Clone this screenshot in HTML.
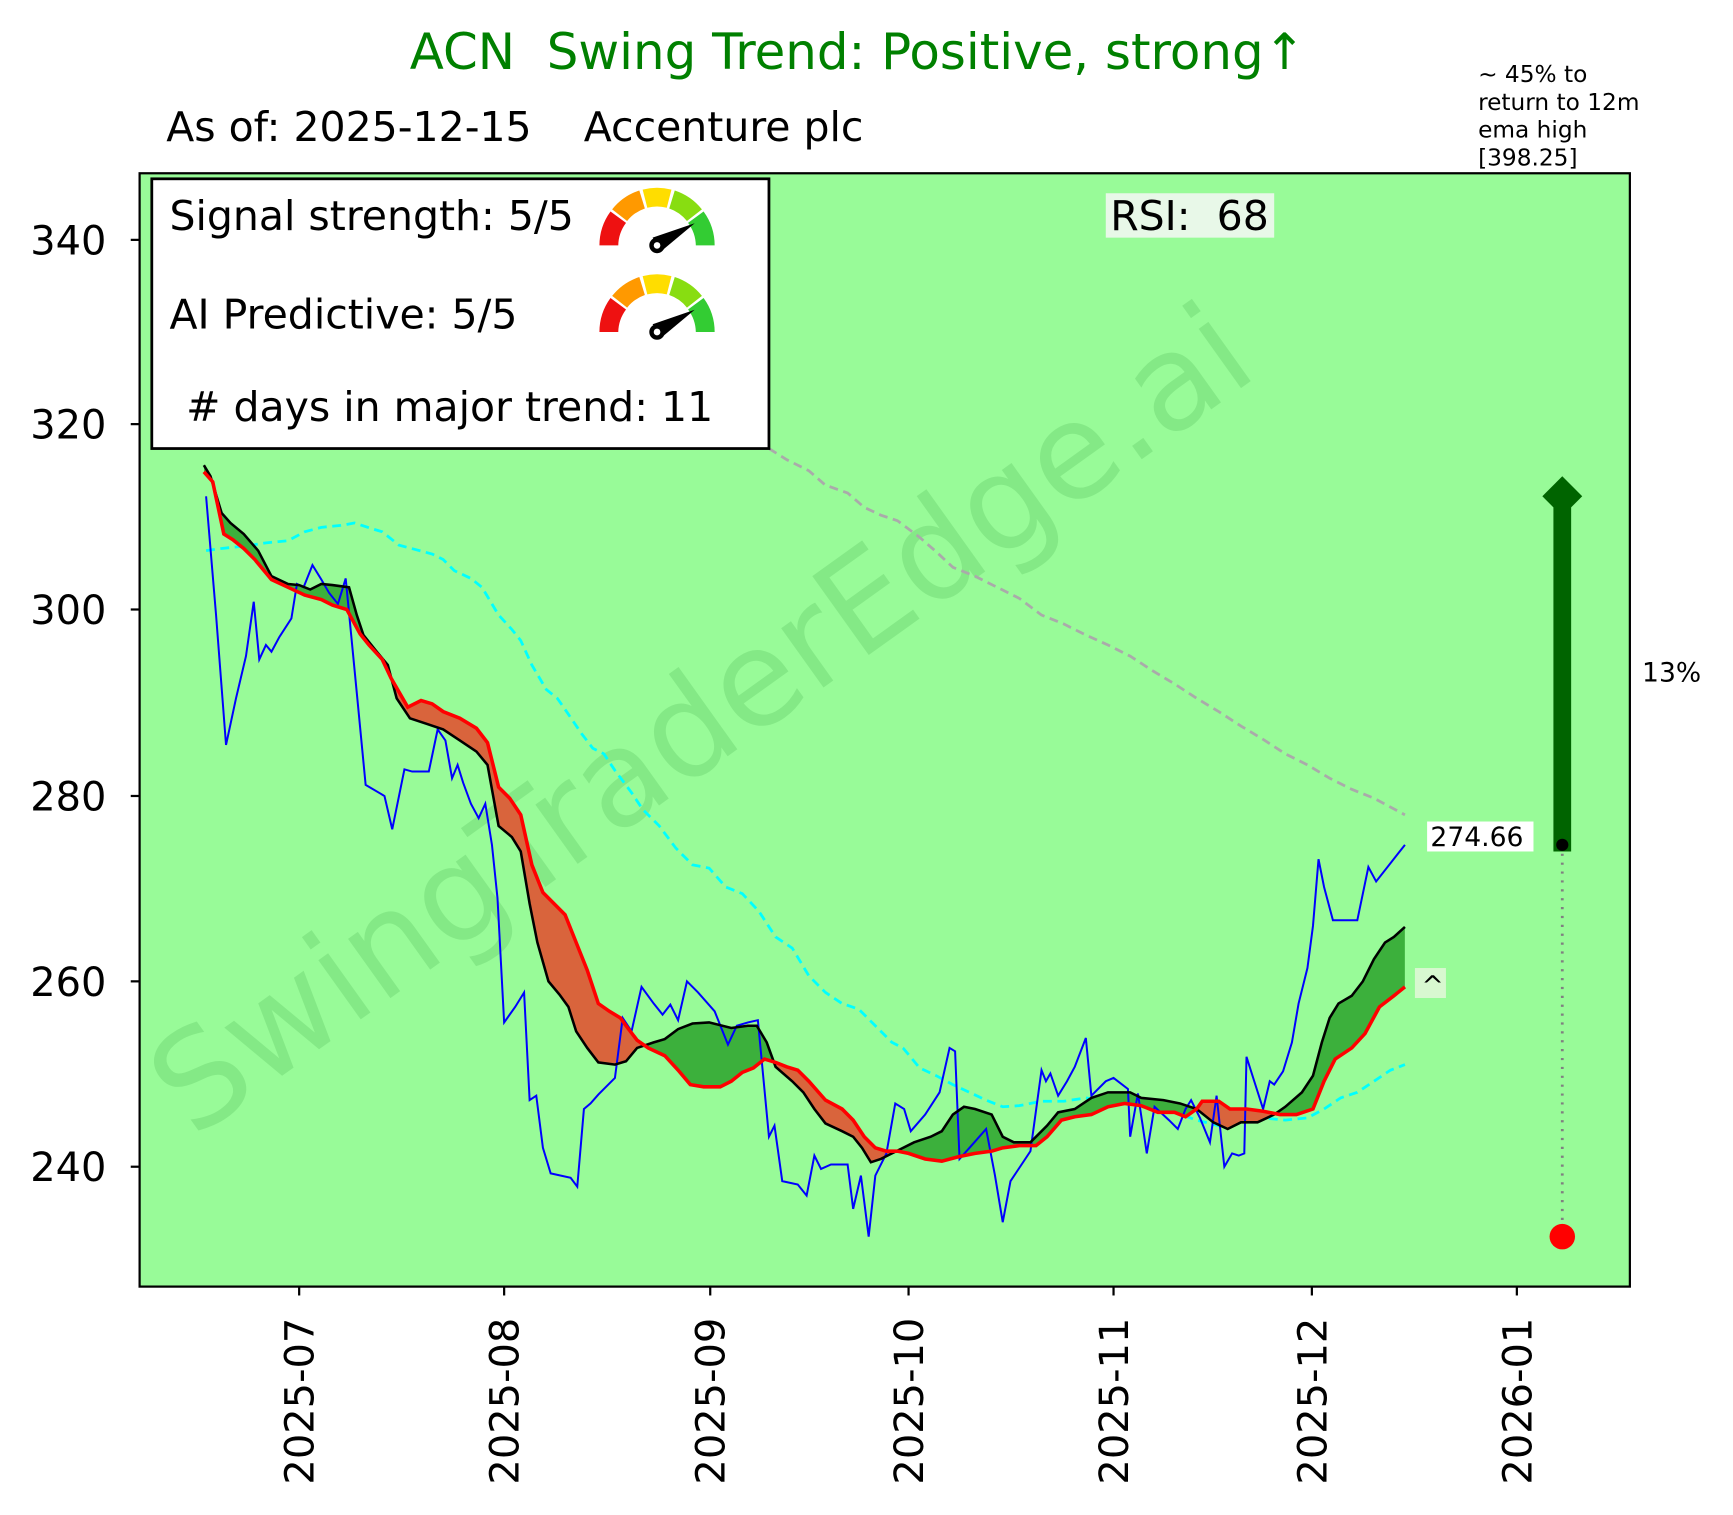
<!DOCTYPE html>
<html><head><meta charset="utf-8"><style>
html,body{margin:0;padding:0;background:#fff;}
svg{display:block;font-family:"DejaVu Sans","Liberation Sans",sans-serif;}
</style></head><body>
<svg width="1733" height="1515" viewBox="0 0 1733 1515" xmlns="http://www.w3.org/2000/svg">
<defs>
<clipPath id="ax"><rect x="126" y="157" width="1345" height="1003"/></clipPath>
<clipPath id="aboveRed"><polygon points="184,0 184,426 192,435 202,482 210,487 220,495 230,505 245,523 260,530 275,537 290,541 300,546 313,550 325,572 333,582 345,595 353,612 368,638 380,632 390,635 400,642 415,648 430,657 440,670 450,710 460,720 470,735 480,780 490,805 500,815 510,825 520,850 530,875 540,905 550,912 560,918 565,925 575,938 585,945 600,952 612,965 623,978 635,980 650,980 660,975 670,967 680,963 690,955 700,958 710,962 720,965 730,975 745,992 760,1000 770,1010 780,1025 790,1035 800,1038 810,1038 820,1040 835,1045 850,1047 865,1043 880,1040 895,1038 905,1035 920,1033 935,1033 945,1025 958,1010 970,1007 985,1005 1000,998 1015,995 1030,997 1045,1003 1060,1003 1070,1007 1080,1000 1085,993 1100,993 1110,1000 1125,1000 1140,1002 1155,1005 1170,1005 1185,1000 1195,975 1205,955 1220,945 1232,932 1245,908 1258,898 1268,890 1268,0"/></clipPath>
<clipPath id="belowRed"><polygon points="184,1400 184,426 192,435 202,482 210,487 220,495 230,505 245,523 260,530 275,537 290,541 300,546 313,550 325,572 333,582 345,595 353,612 368,638 380,632 390,635 400,642 415,648 430,657 440,670 450,710 460,720 470,735 480,780 490,805 500,815 510,825 520,850 530,875 540,905 550,912 560,918 565,925 575,938 585,945 600,952 612,965 623,978 635,980 650,980 660,975 670,967 680,963 690,955 700,958 710,962 720,965 730,975 745,992 760,1000 770,1010 780,1025 790,1035 800,1038 810,1038 820,1040 835,1045 850,1047 865,1043 880,1040 895,1038 905,1035 920,1033 935,1033 945,1025 958,1010 970,1007 985,1005 1000,998 1015,995 1030,997 1045,1003 1060,1003 1070,1007 1080,1000 1085,993 1100,993 1110,1000 1125,1000 1140,1002 1155,1005 1170,1005 1185,1000 1195,975 1205,955 1220,945 1232,932 1245,908 1258,898 1268,890 1268,1400"/></clipPath>
</defs>
<g transform="translate(0,-1) scale(1.108,1.11)">
<text x="774" y="63" text-anchor="middle" font-size="45" fill="#008000" xml:space="preserve">ACN  Swing Trend: Positive, strong↑</text>
<text x="150" y="128" font-size="37" fill="#000" xml:space="preserve">As of: 2025-12-15    Accenture plc</text>
<g font-size="21" fill="#000">
<text x="1334" y="75">~ 45% to</text><text x="1334" y="100">return to 12m</text><text x="1334" y="125">ema high</text><text x="1334" y="150">[398.25]</text>
</g>
<rect x="126" y="157" width="1345" height="1003" fill="#98fb98"/>
<text x="633" y="690" text-anchor="middle" font-size="120" fill="#2e9a3a" fill-opacity="0.18" transform="rotate(-35.6 633 650)">SwingTraderEdge.ai</text>
<g clip-path="url(#ax)">
<polyline fill="none" stroke="#aaaaaa" stroke-width="2.5" stroke-dasharray="8,5" points="694,405 710,415 730,425 745,438 765,445 780,458 795,465 810,470 830,485 845,498 860,512 880,520 900,530 920,540 940,555 960,563 980,573 1000,582 1020,592 1040,605 1060,617 1080,630 1100,642 1120,655 1140,667 1160,680 1180,690 1200,702 1220,712 1240,720 1268,735"/>
<polyline fill="none" stroke="#00ffff" stroke-width="2.5" stroke-dasharray="8,5" points="186,497 200,495 220,493 240,490 260,488 275,480 290,476 310,474 320,472 335,477 345,480 360,492 375,496 390,500 400,505 410,515 425,522 435,530 450,555 462,568 470,578 480,600 493,622 503,630 510,640 525,662 535,675 545,680 555,695 570,715 580,730 595,745 610,765 625,780 640,783 655,800 670,806 685,822 700,845 715,855 730,880 745,895 760,905 775,910 790,925 805,940 815,945 830,963 845,970 860,978 875,985 890,992 905,998 920,997 940,993 960,993 980,990 1000,993 1020,993 1040,998 1060,1003 1080,1010 1100,1015 1120,1012 1140,1008 1160,1010 1180,1008 1195,1000 1210,990 1225,985 1240,975 1255,965 1268,960"/>
<polygon fill-rule="evenodd" fill="#3cb03c" clip-path="url(#aboveRed)" points="184,420 190,430 200,463 208,472 220,482 233,497 245,520 260,527 270,528 280,532 290,527 300,528 315,530 322,555 328,573 340,588 350,600 358,630 370,648 385,653 400,658 415,668 430,678 440,690 450,745 462,755 470,768 478,815 485,850 495,885 505,897 513,908 520,930 530,945 540,958 555,960 565,957 575,945 590,940 600,937 612,928 625,923 640,922 660,927 675,925 683,925 692,940 700,962 715,975 725,985 735,1000 745,1013 760,1020 770,1025 778,1035 786,1048 795,1045 805,1040 815,1035 825,1030 840,1025 850,1020 860,1005 870,998 880,1000 895,1005 905,1025 915,1030 930,1030 945,1015 955,1003 970,1000 985,990 1000,985 1020,985 1030,990 1050,992 1065,995 1080,1000 1095,1012 1108,1018 1120,1012 1135,1012 1150,1005 1160,998 1175,985 1185,970 1193,940 1200,918 1208,905 1220,898 1230,885 1240,865 1250,850 1258,845 1268,836 1268,890 1258,898 1245,908 1232,932 1220,945 1205,955 1195,975 1185,1000 1170,1005 1155,1005 1140,1002 1125,1000 1110,1000 1100,993 1085,993 1080,1000 1070,1007 1060,1003 1045,1003 1030,997 1015,995 1000,998 985,1005 970,1007 958,1010 945,1025 935,1033 920,1033 905,1035 895,1038 880,1040 865,1043 850,1047 835,1045 820,1040 810,1038 800,1038 790,1035 780,1025 770,1010 760,1000 745,992 730,975 720,965 710,962 700,958 690,955 680,963 670,967 660,975 650,980 635,980 623,978 612,965 600,952 585,945 575,938 565,925 560,918 550,912 540,905 530,875 520,850 510,825 500,815 490,805 480,780 470,735 460,720 450,710 440,670 430,657 415,648 400,642 390,635 380,632 368,638 353,612 345,595 333,582 325,572 313,550 300,546 290,541 275,537 260,530 245,523 230,505 220,495 210,487 202,482 192,435 184,426"/>
<polygon fill-rule="evenodd" fill="#d9643c" clip-path="url(#belowRed)" points="184,420 190,430 200,463 208,472 220,482 233,497 245,520 260,527 270,528 280,532 290,527 300,528 315,530 322,555 328,573 340,588 350,600 358,630 370,648 385,653 400,658 415,668 430,678 440,690 450,745 462,755 470,768 478,815 485,850 495,885 505,897 513,908 520,930 530,945 540,958 555,960 565,957 575,945 590,940 600,937 612,928 625,923 640,922 660,927 675,925 683,925 692,940 700,962 715,975 725,985 735,1000 745,1013 760,1020 770,1025 778,1035 786,1048 795,1045 805,1040 815,1035 825,1030 840,1025 850,1020 860,1005 870,998 880,1000 895,1005 905,1025 915,1030 930,1030 945,1015 955,1003 970,1000 985,990 1000,985 1020,985 1030,990 1050,992 1065,995 1080,1000 1095,1012 1108,1018 1120,1012 1135,1012 1150,1005 1160,998 1175,985 1185,970 1193,940 1200,918 1208,905 1220,898 1230,885 1240,865 1250,850 1258,845 1268,836 1268,890 1258,898 1245,908 1232,932 1220,945 1205,955 1195,975 1185,1000 1170,1005 1155,1005 1140,1002 1125,1000 1110,1000 1100,993 1085,993 1080,1000 1070,1007 1060,1003 1045,1003 1030,997 1015,995 1000,998 985,1005 970,1007 958,1010 945,1025 935,1033 920,1033 905,1035 895,1038 880,1040 865,1043 850,1047 835,1045 820,1040 810,1038 800,1038 790,1035 780,1025 770,1010 760,1000 745,992 730,975 720,965 710,962 700,958 690,955 680,963 670,967 660,975 650,980 635,980 623,978 612,965 600,952 585,945 575,938 565,925 560,918 550,912 540,905 530,875 520,850 510,825 500,815 490,805 480,780 470,735 460,720 450,710 440,670 430,657 415,648 400,642 390,635 380,632 368,638 353,612 345,595 333,582 325,572 313,550 300,546 290,541 275,537 260,530 245,523 230,505 220,495 210,487 202,482 192,435 184,426"/>
<polyline fill="none" stroke="#0000ff" stroke-width="1.8" points="186,448 195,555 204,672 213,630 222,592 229,543 234,595 240,582 245,588 252,575 263,558 268,527 274,530 282,510 290,523 297,535 305,545 312,522 322,625 330,708 347,718 354,748 365,694 372,696 387,696 395,658 402,668 408,702 413,690 418,706 425,725 432,738 438,725 444,762 449,810 455,922 465,908 473,895 478,992 484,988 490,1035 497,1058 515,1062 521,1070 527,1000 533,995 540,987 555,972 562,918 570,930 579,890 590,905 598,915 605,906 612,920 620,885 630,895 645,912 657,942 665,925 675,922 684,920 694,1025 699,1015 706,1065 720,1068 728,1078 735,1042 741,1054 750,1050 765,1050 770,1090 777,1060 784,1115 790,1060 800,1040 808,995 816,1000 822,1020 835,1005 848,985 857,945 862,948 866,1045 875,1035 890,1018 898,1060 905,1102 912,1065 930,1038 940,965 944,975 948,968 955,988 963,975 970,962 980,936 985,988 998,975 1005,972 1018,982 1020,1025 1027,986 1035,1040 1042,998 1055,1010 1063,1018 1070,1000 1075,992 1083,1008 1092,1030 1098,988 1105,1052 1112,1040 1118,1042 1123,1040 1125,953 1132,975 1140,1000 1146,975 1150,978 1158,966 1166,940 1172,905 1180,873 1185,835 1190,775 1195,800 1203,830 1225,830 1235,782 1242,795 1268,762"/>
<polyline fill="none" stroke="#000" stroke-width="2.3" points="184,420 190,430 200,463 208,472 220,482 233,497 245,520 260,527 270,528 280,532 290,527 300,528 315,530 322,555 328,573 340,588 350,600 358,630 370,648 385,653 400,658 415,668 430,678 440,690 450,745 462,755 470,768 478,815 485,850 495,885 505,897 513,908 520,930 530,945 540,958 555,960 565,957 575,945 590,940 600,937 612,928 625,923 640,922 660,927 675,925 683,925 692,940 700,962 715,975 725,985 735,1000 745,1013 760,1020 770,1025 778,1035 786,1048 795,1045 805,1040 815,1035 825,1030 840,1025 850,1020 860,1005 870,998 880,1000 895,1005 905,1025 915,1030 930,1030 945,1015 955,1003 970,1000 985,990 1000,985 1020,985 1030,990 1050,992 1065,995 1080,1000 1095,1012 1108,1018 1120,1012 1135,1012 1150,1005 1160,998 1175,985 1185,970 1193,940 1200,918 1208,905 1220,898 1230,885 1240,865 1250,850 1258,845 1268,836"/>
<polyline fill="none" stroke="#ff0000" stroke-width="3.2" points="184,426 192,435 202,482 210,487 220,495 230,505 245,523 260,530 275,537 290,541 300,546 313,550 325,572 333,582 345,595 353,612 368,638 380,632 390,635 400,642 415,648 430,657 440,670 450,710 460,720 470,735 480,780 490,805 500,815 510,825 520,850 530,875 540,905 550,912 560,918 565,925 575,938 585,945 600,952 612,965 623,978 635,980 650,980 660,975 670,967 680,963 690,955 700,958 710,962 720,965 730,975 745,992 760,1000 770,1010 780,1025 790,1035 800,1038 810,1038 820,1040 835,1045 850,1047 865,1043 880,1040 895,1038 905,1035 920,1033 935,1033 945,1025 958,1010 970,1007 985,1005 1000,998 1015,995 1030,997 1045,1003 1060,1003 1070,1007 1080,1000 1085,993 1100,993 1110,1000 1125,1000 1140,1002 1155,1005 1170,1005 1185,1000 1195,975 1205,955 1220,945 1232,932 1245,908 1258,898 1268,890"/>
<line x1="1410" y1="762" x2="1410" y2="1110" stroke="#808080" stroke-width="2.5" stroke-dasharray="2,6"/>
<line x1="1410" y1="768" x2="1410" y2="458" stroke="#006400" stroke-width="16"/>
<polygon points="1410,430 1428,448 1410,466 1392,448" fill="#006400"/>
<circle cx="1410" cy="762" r="5.5" fill="#000"/>
<circle cx="1410" cy="1115" r="11.5" fill="#ff0000"/>
<rect x="1288" y="741" width="96" height="27" fill="#fff"/>
<text x="1291" y="763" font-size="24" fill="#000">274.66</text>
<rect x="1277" y="873" width="28" height="27" fill="#d8f8d0"/>
<text x="1283" y="897" font-size="24" fill="#000">^</text>
</g>
<rect x="998" y="175" width="152" height="40" fill="#e8f8e8"/>
<text x="1002" y="208" font-size="37" fill="#000" xml:space="preserve">RSI:  68</text>
<rect x="137" y="162" width="557" height="243" fill="#fff" stroke="#000" stroke-width="2.5"/>
<g font-size="37" fill="#000">
<text x="153" y="208">Signal strength: 5/5</text>
<text x="153" y="297">AI Predictive: 5/5</text>
<text x="168" y="380"># days in major trend: 11</text>
</g>
<g id="g1" transform="translate(593,222)">
<path d="M-52,0 A52,52 0 0 1 -42,-30.6 L-28,-20.3 A35,35 0 0 0 -35,0 Z" fill="#ee1111"/>
<path d="M-40.5,-32.5 A52,52 0 0 1 -16,-49.5 L-11,-33.3 A35,35 0 0 0 -27,-22 Z" fill="#ff9900"/>
<path d="M-13,-50.3 A52,52 0 0 1 13,-50.3 L8.8,-33.9 A35,35 0 0 0 -8.8,-33.9 Z" fill="#ffdd00"/>
<path d="M16,-49.5 A52,52 0 0 1 40.5,-32.5 L27,-22 A35,35 0 0 0 11,-33.3 Z" fill="#88dd11"/>
<path d="M42,-30.6 A52,52 0 0 1 52,0 L35,0 A35,35 0 0 0 28,-20.3 Z" fill="#33cc33"/>
<polygon points="-4,-7 34,-20 4,5" fill="#000"/>
<circle cx="0" cy="0" r="7" fill="#000"/><circle cx="0" cy="0" r="3" fill="#fff"/>
</g>
<use href="#g1" transform="translate(0,78)"/>
<rect x="126" y="157" width="1345" height="1003" fill="none" stroke="#000" stroke-width="2"/>
<g stroke="#000" stroke-width="2">
<line x1="118" y1="217" x2="126" y2="217"/><line x1="118" y1="383" x2="126" y2="383"/><line x1="118" y1="550" x2="126" y2="550"/><line x1="118" y1="718" x2="126" y2="718"/><line x1="118" y1="885" x2="126" y2="885"/><line x1="118" y1="1052" x2="126" y2="1052"/>
<line x1="270" y1="1160" x2="270" y2="1168"/><line x1="455" y1="1160" x2="455" y2="1168"/><line x1="641" y1="1160" x2="641" y2="1168"/><line x1="820" y1="1160" x2="820" y2="1168"/><line x1="1005" y1="1160" x2="1005" y2="1168"/><line x1="1184" y1="1160" x2="1184" y2="1168"/><line x1="1369" y1="1160" x2="1369" y2="1168"/>
</g>
<g font-size="36" fill="#000" text-anchor="end">
<text x="96" y="230">340</text><text x="96" y="396">320</text><text x="96" y="563">300</text><text x="96" y="731">280</text><text x="96" y="898">260</text><text x="96" y="1065">240</text>
</g>
<g font-size="36" fill="#000" text-anchor="end">
<text transform="translate(283,1188) rotate(-90)">2025-07</text>
<text transform="translate(468,1188) rotate(-90)">2025-08</text>
<text transform="translate(654,1188) rotate(-90)">2025-09</text>
<text transform="translate(833,1188) rotate(-90)">2025-10</text>
<text transform="translate(1018,1188) rotate(-90)">2025-11</text>
<text transform="translate(1197,1188) rotate(-90)">2025-12</text>
<text transform="translate(1382,1188) rotate(-90)">2026-01</text>
</g>
<text x="1482" y="615" font-size="24" fill="#000">13%</text>
</g>
</svg>
</body></html>
